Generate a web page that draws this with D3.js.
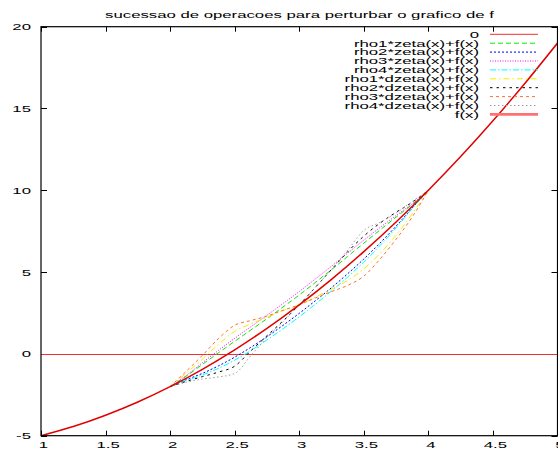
<!DOCTYPE html>
<html>
<head>
<meta charset="utf-8">
<script src="https://cdn.jsdelivr.net/npm/d3@7"></script>
<style>
html, body { margin: 0; padding: 0; background: #fff; }
svg { display: block; }
text { font-family: "Liberation Sans", Arial, sans-serif; font-size: 9.2px; fill: #000; }
</style>
</head>
<body>
<div id="graphic"></div>
<script>
var title = "sucessao de operacoes para perturbar o grafico de f";
var xTicks = [1, 1.5, 2, 2.5, 3, 3.5, 4, 4.5, 5];
var yTicks = [-5, 0, 5, 10, 15, 20];

// f(x) over the whole range
var fX = [1, 1.25, 1.5, 1.75, 2, 2.25, 2.5, 2.75, 3, 3.25, 3.5, 3.75, 4, 4.25, 4.5, 4.75, 5];
var fY = [-5, -4.44, -3.75, -2.94, -2, -0.94, 0.25, 1.56, 3, 4.56, 6.25, 8.06, 10, 12.06, 14.25, 16.56, 19];

// perturbed curves, read on one grid between 2 and 4
var gridX = [2, 2.125, 2.25, 2.375, 2.5, 2.625, 2.75, 2.875, 3, 3.125, 3.25, 3.375, 3.5, 3.625, 3.75, 3.875, 4];
var rho1Zeta = [-2, -1.36, -0.64, 0.07, 0.77, 1.46, 2.15, 2.87, 3.6, 4.37, 5.15, 5.96, 6.77, 7.57, 8.36, 9.14, 10];
var rho2Zeta = [-2, -1.58, -1.19, -0.73, -0.2, 0.4, 1.05, 1.75, 2.48, 3.25, 4.05, 4.9, 5.8, 6.77, 7.81, 8.92, 10];
var rho3Zeta = [-2, -1.32, -0.54, 0.22, 0.95, 1.66, 2.36, 3.08, 3.81, 4.58, 5.36, 6.16, 6.95, 7.72, 8.46, 9.18, 10];
var rho4Zeta = [-2, -1.62, -1.29, -0.88, -0.38, 0.2, 0.85, 1.54, 2.27, 3.04, 3.85, 4.7, 5.62, 6.62, 7.71, 8.88, 10];
var rho1Dzeta = [-2, -1.18, -0.32, 0.59, 1.37, 1.84, 2.24, 2.65, 3, 3.47, 3.96, 4.49, 5.2, 6.14, 7.26, 8.57, 10];
var rho2Dzeta = [-2, -1.68, -1.39, -1.11, -0.75, 0.19, 1.11, 2.02, 3, 4.07, 5.16, 6.24, 7.2, 7.99, 8.66, 9.27, 10];
var rho3Dzeta = [-2, -1.06, -0.09, 0.94, 1.75, 2.04, 2.31, 2.67, 3, 3.42, 3.81, 4.19, 4.75, 5.79, 7.01, 8.37, 10];
var rho4Dzeta = [-2, -1.73, -1.54, -1.41, -1.2, -0.11, 1.01, 1.97, 3, 4.07, 5.16, 6.34, 7.55, 8.04, 8.61, 9.32, 10];

var seriesNames = ["rho1*zeta(x)+f(x)", "rho2*zeta(x)+f(x)", "rho3*zeta(x)+f(x)", "rho4*zeta(x)+f(x)",
    "rho1*dzeta(x)+f(x)", "rho2*dzeta(x)+f(x)", "rho3*dzeta(x)+f(x)", "rho4*dzeta(x)+f(x)"];
var seriesValues = [rho1Zeta, rho2Zeta, rho3Zeta, rho4Zeta, rho1Dzeta, rho2Dzeta, rho3Dzeta, rho4Dzeta];
var seriesColors = ["#00ee00", "#0000ff", "#ff00ff", "#00ffff", "#eeee00", "#000000", "#ff7030", "#a0a0a0"];
var seriesDashes = ["5,3", "2,2", "1,1.5", "6,2,1.5,2", "6,3,1.5,3", "2.5,4", "3,3", "1.5,2.5"];

var W = 558, H = 449;
var plotLeft = 41, plotRight = 557.5, plotTop = 26.7, plotBottom = 435.7;
var stretch = 1.82; // the text of the picture is wide

var svg = d3.select("#graphic").append("svg")
    .attr("width", W)
    .attr("height", H);

var x = d3.scaleLinear().domain([1, 5]).range([plotLeft, plotRight]);
var y = d3.scaleLinear().domain([-5, 20]).range([plotBottom, plotTop]);

function label(t, px, py, anchor) {
    return svg.append("text")
        .attr("transform", "translate(" + px + "," + py + ") scale(" + stretch + ",1)")
        .attr("text-anchor", anchor)
        .text(t);
}

label(title, 299.5, 17.5, "middle");

// ticks, in and mirrored
var ticks = svg.append("g").attr("stroke", "#000").attr("stroke-width", 1);
xTicks.forEach(function (d) {
    var px = Math.round(x(d)) + 0.5;
    ticks.append("line").attr("x1", px).attr("x2", px).attr("y1", plotBottom).attr("y2", plotBottom - 5);
    ticks.append("line").attr("x1", px).attr("x2", px).attr("y1", plotTop).attr("y2", plotTop + 5);
    label(String(d), x(d) + 2.5, 447.5, "middle");
});
yTicks.forEach(function (d) {
    var py = Math.round(y(d)) + 0.5;
    ticks.append("line").attr("x1", plotLeft).attr("x2", plotLeft + 6).attr("y1", py).attr("y2", py);
    ticks.append("line").attr("x1", plotRight).attr("x2", plotRight - 6).attr("y1", py).attr("y2", py);
    label(String(d), 31, y(d) + 3.5, "end");
});

var plot = svg.append("g");

// the 0 line
plot.append("line")
    .attr("x1", x(1)).attr("x2", x(5))
    .attr("y1", Math.round(y(0)) + 0.5).attr("y2", Math.round(y(0)) + 0.5)
    .attr("stroke", "#ee3030").attr("stroke-width", 1);

var curve = d3.line()
    .x(function (d) { return x(d[0]); })
    .y(function (d) { return y(d[1]); })
    .curve(d3.curveMonotoneX);

seriesValues.forEach(function (vals, i) {
    plot.append("path")
        .datum(gridX.map(function (gx, j) { return [gx, vals[j]]; }))
        .attr("d", curve)
        .attr("fill", "none")
        .attr("stroke", seriesColors[i])
        .attr("stroke-width", 1)
        .attr("stroke-dasharray", seriesDashes[i]);
});

plot.append("path")
    .datum(fX.map(function (fx, j) { return [fx, fY[j]]; }))
    .attr("d", d3.line().x(function (d) { return x(d[0]); }).y(function (d) { return y(d[1]); }).curve(d3.curveNatural))
    .attr("fill", "none")
    .attr("stroke", "#e00000")
    .attr("stroke-width", 1.5);

// frame
svg.append("rect")
    .attr("x", plotLeft).attr("y", plotTop)
    .attr("width", plotRight - plotLeft).attr("height", plotBottom - plotTop)
    .attr("fill", "none").attr("stroke", "#000").attr("stroke-width", 1.2);

// legend
var legendNames = ["0"].concat(seriesNames, ["f(x)"]);
var legendColors = ["#ee3030"].concat(seriesColors, ["#ff7070"]);
var legendDashes = [null].concat(seriesDashes, [null]);
legendNames.forEach(function (name, i) {
    var ly = 34.3 + i * 8.9;
    label(name, 479, ly + 3.3, "end");
    svg.append("line")
        .attr("x1", 490).attr("x2", 538)
        .attr("y1", ly).attr("y2", ly)
        .attr("stroke", legendColors[i])
        .attr("stroke-width", i === legendNames.length - 1 ? 2.6 : 1)
        .attr("stroke-dasharray", legendDashes[i]);
});
</script>
</body>
</html>
